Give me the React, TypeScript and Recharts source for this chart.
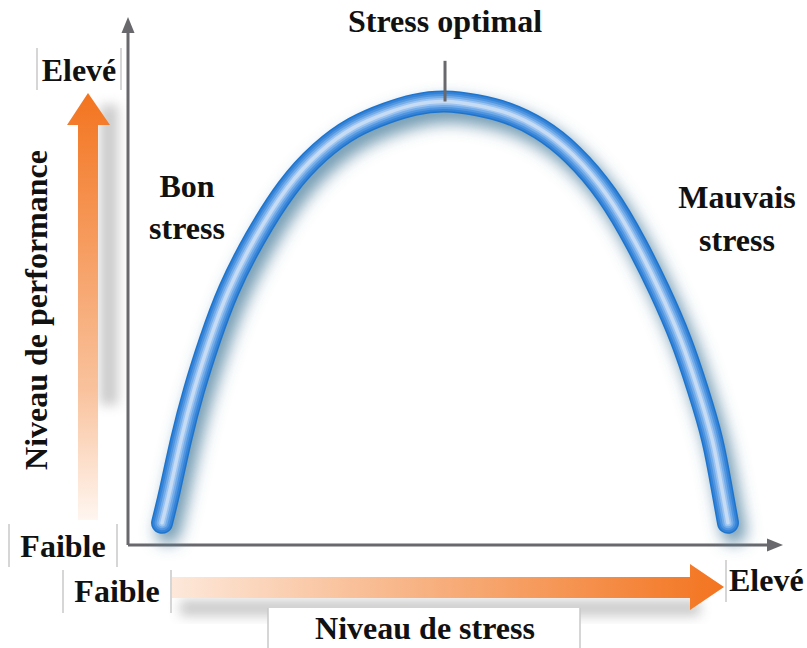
import React from 'react';
import { LineChart, Line, XAxis, YAxis, ReferenceDot, ReferenceLine } from 'recharts';

// curve (x: stress level, y: performance, both 0-100)
const stressLevels = [5.2, 6.4, 8.1, 10.1, 12.5, 15.4, 19.4, 24.3, 29.3, 34.4, 39.5, 43.8, 48.4, 53.2, 57.9, 62.9, 67.9, 73.1, 77.6, 81.1, 84.4, 87.0, 89.2, 90.7, 91.6];
const performance = [4.2, 10.4, 19.9, 29.4, 38.8, 48.3, 58.1, 67.6, 74.4, 79.0, 81.8, 83.4, 84.0, 83.3, 81.8, 78.8, 73.9, 66.3, 57.0, 48.3, 38.8, 29.4, 19.9, 10.4, 4.2];

const peakX = 48.4;
const peakY = 84.0;
const peakTickTop = 91.7;

const titleTop = 'Stress optimal';
const goodLabel = ['Bon', 'stress'];
const badLabel = ['Mauvais', 'stress'];
const yAxisTitle = 'Niveau de performance';
const xAxisTitle = 'Niveau de stress';
const lowLabel = 'Faible';
const highLabel = 'Elevé';

const W = 807;
const H = 648;
const AXIS = '#68686d';
const FONT = '"Liberation Serif", "Times New Roman", serif';

const data = stressLevels.map((x, i) => ({ x, y: performance[i] }));

const ArrowUp = (props: any) => {
  const { cx, cy } = props;
  return <polygon points={`${cx},${cy} ${cx - 6.5},${cy + 16} ${cx + 6.5},${cy + 16}`} fill={AXIS} />;
};

const ArrowRight = (props: any) => {
  const { cx, cy } = props;
  return <polygon points={`${cx},${cy} ${cx - 16},${cy - 6.5} ${cx - 16},${cy + 6.5}`} fill={AXIS} />;
};

const bar = (x: number, y1: number, y2: number, key: string) => (
  <line key={key} x1={x} x2={x} y1={y1} y2={y2} stroke="#c9c9c9" strokeWidth={1.5} />
);

const labelStyle = { fontFamily: FONT, fontWeight: 700, fontSize: 32, fill: '#111' };

// tube layers: outer blue edge to pale centre
const tube = [
  { stroke: '#1e74cc', width: 22 },
  { stroke: '#3483d8', width: 19 },
  { stroke: '#5095e0', width: 15 },
  { stroke: '#73ace8', width: 11 },
  { stroke: '#9dc4f0', width: 7 },
  { stroke: '#c6dcf5', width: 3.5 },
];

export default function App() {
  return (
    <div style={{ position: 'absolute', left: 0, top: 0, width: W, height: H, background: '#fff' }}>
      <LineChart width={W} height={H} data={data} margin={{ top: 17, right: 24, bottom: 103, left: 128 }}>
        <defs>
          <filter id="tubeShadow" x="-20%" y="-20%" width="140%" height="140%">
            <feOffset dx="6" dy="9" />
            <feGaussianBlur stdDeviation="8" />
          </filter>
          <filter id="softShadow" x="-50%" y="-50%" width="200%" height="200%">
            <feGaussianBlur stdDeviation="6" />
          </filter>
          <linearGradient id="upGrad" x1="0" y1="1" x2="0" y2="0">
            <stop offset="0%" stopColor="#fff6f0" />
            <stop offset="30%" stopColor="#f9c39e" />
            <stop offset="100%" stopColor="#f3741f" />
          </linearGradient>
          <linearGradient id="rightGrad" x1="0" y1="0" x2="1" y2="0">
            <stop offset="0%" stopColor="#fde8da" />
            <stop offset="40%" stopColor="#f8b88c" />
            <stop offset="100%" stopColor="#f3741f" />
          </linearGradient>
        </defs>

        {/* orange arrows with their grey shadows */}
        <rect x={100} y={105} width={18} height={300} fill="#8c8c8c" opacity={0.45} filter="url(#softShadow)" />
        <polygon points="78,520 78,125 67,125 88,93 110,125 98,125 98,520" fill="url(#upGrad)" />
        <rect x={180} y={600} width={520} height={16} fill="#8c8c8c" opacity={0.45} filter="url(#softShadow)" />
        <polygon points="172,577 690,577 690,564 724,587 690,610 690,598 172,598" fill="url(#rightGrad)" />

        <XAxis type="number" dataKey="x" domain={[0, 100]} hide />
        <YAxis type="number" domain={[0, 100]} hide />
        <ReferenceLine segment={[{ x: 0, y: 0 }, { x: 0, y: 98 }]} stroke={AXIS} strokeWidth={3} ifOverflow="visible" />
        <ReferenceLine segment={[{ x: 0, y: 0 }, { x: 98, y: 0 }]} stroke={AXIS} strokeWidth={3} ifOverflow="visible" />
        <ReferenceDot x={0} y={100} r={0} ifOverflow="visible" shape={ArrowUp} />
        <ReferenceDot x={100} y={0} r={0} ifOverflow="visible" shape={ArrowRight} />

        <Line dataKey="y" type="natural" stroke="#4d7f9e" strokeOpacity={0.8} strokeWidth={24} strokeLinecap="round" filter="url(#tubeShadow)" dot={false} activeDot={false} isAnimationActive={false} />
        {tube.map((t) => (
          <Line key={t.stroke} dataKey="y" type="natural" stroke={t.stroke} strokeWidth={t.width} strokeLinecap="round" dot={false} activeDot={false} isAnimationActive={false} />
        ))}

        <ReferenceLine segment={[{ x: peakX, y: peakY }, { x: peakX, y: peakTickTop }]} stroke={AXIS} strokeWidth={3} ifOverflow="visible" />

        {/* text labels */}
        <text x={445} y={32} textAnchor="middle" style={labelStyle}>{titleTop}</text>
        <text x={187} y={197} textAnchor="middle" style={labelStyle}>{goodLabel[0]}</text>
        <text x={187} y={239} textAnchor="middle" style={labelStyle}>{goodLabel[1]}</text>
        <text x={737} y={208} textAnchor="middle" style={labelStyle}>{badLabel[0]}</text>
        <text x={737} y={251} textAnchor="middle" style={labelStyle}>{badLabel[1]}</text>
        <text x={47} y={310} textAnchor="middle" transform="rotate(-90 47 310)" style={labelStyle}>{yAxisTitle}</text>

        {bar(37, 48, 90, 'b1')}
        {bar(121, 48, 90, 'b2')}
        <text x={79} y={81} textAnchor="middle" style={labelStyle}>{highLabel}</text>

        <rect x={9} y={524} width={108} height={43} fill="#fff" />
        {bar(9, 524, 567, 'b3')}
        {bar(117, 524, 567, 'b4')}
        <text x={63} y={557} textAnchor="middle" style={labelStyle}>{lowLabel}</text>

        {bar(63, 570, 613, 'b5')}
        {bar(171, 570, 613, 'b6')}
        <text x={117} y={602} textAnchor="middle" style={labelStyle}>{lowLabel}</text>

        <rect x={726} y={560} width={81} height={42} fill="#fff" />
        {bar(726, 560, 602, 'b7')}
        <text x={729} y={591} style={labelStyle}>{highLabel}</text>

        <rect x={268} y={608} width={312} height={40} fill="#fff" />
        {bar(268, 608, 648, 'b8')}
        {bar(580, 608, 648, 'b9')}
        <text x={425} y={639} textAnchor="middle" style={labelStyle}>{xAxisTitle}</text>
      </LineChart>
    </div>
  );
}
